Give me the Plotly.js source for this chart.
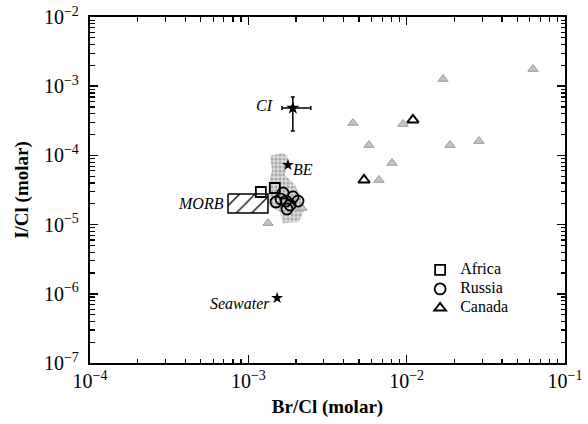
<!DOCTYPE html>
<html>
<head>
<meta charset="utf-8">
<script src="https://cdn.plot.ly/plotly-3.0.1.min.js"></script>
<style>html,body{margin:0;padding:0;background:#fff;}#chart{width:588px;height:424px;}</style>
</head>
<body>
<div id="chart"></div>
<script>
// Grey field (stippled cloud of data)
const fieldX = [1.370e-3, 1.630e-3, 1.760e-3, 1.780e-3, 1.700e-3, 1.971e-3, 2.121e-3, 2.260e-3, 2.080e-3, 1.656e-3, 1.585e-3, 1.331e-3, 1.350e-3, 1.411e-3, 1.370e-3];
const fieldY = [9.80e-5, 1.083e-4, 1.00e-4, 8.58e-5, 5.21e-5, 3.73e-5, 2.68e-5, 1.63e-5, 1.09e-5, 1.05e-5, 1.52e-5, 1.92e-5, 3.73e-5, 6.15e-5, 9.80e-5];

// MORB box
const morbX = [7.44e-4, 1.33e-3, 1.33e-3, 7.44e-4, 7.44e-4];
const morbY = [2.77e-5, 2.77e-5, 1.47e-5, 1.47e-5, 2.77e-5];

// Grey triangles
const greyX = [6.28e-2, 1.697e-2, 4.58e-3, 9.48e-3, 5.78e-3, 1.878e-2, 2.86e-2, 8.08e-3, 6.69e-3, 1.331e-3, 2.18e-3];
const greyY = [1.77e-3, 1.27e-3, 2.94e-4, 2.84e-4, 1.41e-4, 1.41e-4, 1.61e-4, 7.77e-5, 4.41e-5, 1.05e-5, 1.74e-5];

// Africa
const africaX = [1.20e-3, 1.47e-3];
const africaY = [2.96e-5, 3.38e-5];

// Russia
const russiaX = [1.656e-3, 1.496e-3, 1.608e-3, 1.729e-3, 1.834e-3, 1.755e-3, 2.059e-3, 1.915e-3];
const russiaY = [2.86e-5, 2.12e-5, 2.34e-5, 2.19e-5, 1.92e-5, 1.68e-5, 2.19e-5, 2.51e-5];

// Canada
const canadaX = [1.096e-2, 5.38e-3];
const canadaY = [3.25e-4, 4.41e-5];

// Reference stars: CI, BE, Seawater
const starNames = ["CI", "BE", "Seawater"];
const starX = [1.91e-3, 1.78e-3, 1.52e-3];
const starY = [4.84e-4, 7.26e-5, 8.7e-7];
const ciErrXPlus = 0.57e-3, ciErrXMinus = 0.28e-3;
const ciErrYPlus = 2.14e-4, ciErrYMinus = 2.59e-4;

// Minor tick positions (2..9 times each power of ten)
function minorTicks(lo, hi) {
  const v = [];
  for (let k = lo; k < hi; k++) for (let d = 2; d <= 9; d++) v.push(d * Math.pow(10, k));
  return v;
}

const serif = "Liberation Serif, Times New Roman, serif";

const traces = [
  {x: fieldX, y: fieldY, mode: 'lines', fill: 'toself', fillcolor: '#d6d6d6',
   fillpattern: {shape: '.', fgcolor: '#a8a8a8', bgcolor: '#dcdcdc', size: 4, solidity: 0.45},
   line: {width: 0, color: 'rgba(0,0,0,0)'}, showlegend: false, hoverinfo: 'skip'},
  {x: morbX, y: morbY, mode: 'lines', fill: 'toself',
   fillpattern: {shape: '/', fgcolor: 'black', bgcolor: 'white', size: 11, solidity: 0.12},
   line: {color: 'black', width: 1.5}, showlegend: false},
  {x: greyX, y: greyY, mode: 'markers', showlegend: false,
   marker: {symbol: 'triangle-up', size: 9, color: '#c4c4c4', line: {color: '#9a9a9a', width: 1}}},
  {x: africaX, y: africaY, mode: 'markers', name: '<span style="font-size:16px">Africa</span>',
   marker: {symbol: 'square-open', size: 10, color: 'black', line: {color: 'black', width: 1.8}}},
  {x: russiaX, y: russiaY, mode: 'markers', name: '<span style="font-size:16px">Russia</span>',
   marker: {symbol: 'circle-open', size: 11, color: 'black', line: {color: 'black', width: 1.8}}},
  {x: canadaX, y: canadaY, mode: 'markers', name: '<span style="font-size:16px">Canada</span>',
   marker: {symbol: 'triangle-up-open', size: 10, color: 'black', line: {color: 'black', width: 2}}},
  {x: [starX[0]], y: [starY[0]], mode: 'markers', showlegend: false, xaxis: 'x2', yaxis: 'y2',
   marker: {symbol: 'star', size: 10, color: 'black'},
   error_x: {type: 'data', symmetric: false, array: [ciErrXPlus], arrayminus: [ciErrXMinus], color: 'black', thickness: 1.5, width: 2},
   error_y: {type: 'data', symmetric: false, array: [ciErrYPlus], arrayminus: [ciErrYMinus], color: 'black', thickness: 1.5, width: 2}},
  {x: starX.slice(1), y: starY.slice(1), mode: 'markers', showlegend: false, xaxis: 'x2', yaxis: 'y2',
   marker: {symbol: 'star', size: 9, color: 'black'}}
];

const labelPos = [[-2.895, -3.286], [-2.655, -4.197], [-3.053, -6.133]];
const annotations = starNames.map((n, i) => ({
  x: labelPos[i][0], y: labelPos[i][1], xref: 'x', yref: 'y', text: n, showarrow: false,
  font: {family: serif, size: 16, color: 'black', style: 'italic'}
}));
annotations.push({x: -3.299, y: -4.688, xref: 'x', yref: 'y', text: 'MORB', showarrow: false,
  font: {family: serif, size: 16, color: 'black', style: 'italic'}});

const axisCommon = {
  type: 'log', showgrid: false, zeroline: false, showline: true, linecolor: 'black', linewidth: 2,
  mirror: 'allticks', ticks: 'inside', ticklen: 8, tickwidth: 1.5, tickcolor: 'black',
  dtick: 1, exponentformat: 'power', tickfont: {family: serif, size: 16, color: 'black'}
};
const minorCommon = {
  type: 'log', showgrid: false, zeroline: false, showline: true, linecolor: 'black', linewidth: 2,
  mirror: 'allticks', ticks: 'inside', ticklen: 4.5, tickwidth: 1.2, tickcolor: 'black',
  tickmode: 'array', showticklabels: false
};

const layout = {
  width: 588, height: 424,
  margin: {l: 90, r: 23, t: 17, b: 61},
  paper_bgcolor: 'white', plot_bgcolor: 'white',
  font: {family: serif, color: 'black'},
  xaxis: Object.assign({}, axisCommon, {range: [-4, -1],
    title: {text: '<b>Br/Cl (molar)</b>', font: {family: serif, size: 19, color: 'black'}, standoff: 8}}),
  yaxis: Object.assign({}, axisCommon, {range: [-7, -2], ticklabelstandoff: 6,
    title: {text: '<b>I/Cl (molar)</b>', font: {family: serif, size: 19, color: 'black'}, standoff: 10}}),
  xaxis2: Object.assign({}, minorCommon, {range: [-4, -1], overlaying: 'x', side: 'bottom', tickvals: minorTicks(-4, -1)}),
  yaxis2: Object.assign({}, minorCommon, {range: [-7, -2], overlaying: 'y', side: 'left', tickvals: minorTicks(-7, -2)}),
  legend: {x: 0.695, y: 0.311, xanchor: 'left', yanchor: 'top', bgcolor: 'rgba(0,0,0,0)',
    font: {family: serif, size: 11, color: 'black'}, tracegroupgap: 0, itemwidth: 30},
  annotations: annotations,
  showlegend: true
};

Plotly.newPlot('chart', traces, layout, {staticPlot: true, displayModeBar: false});
</script>
</body>
</html>
